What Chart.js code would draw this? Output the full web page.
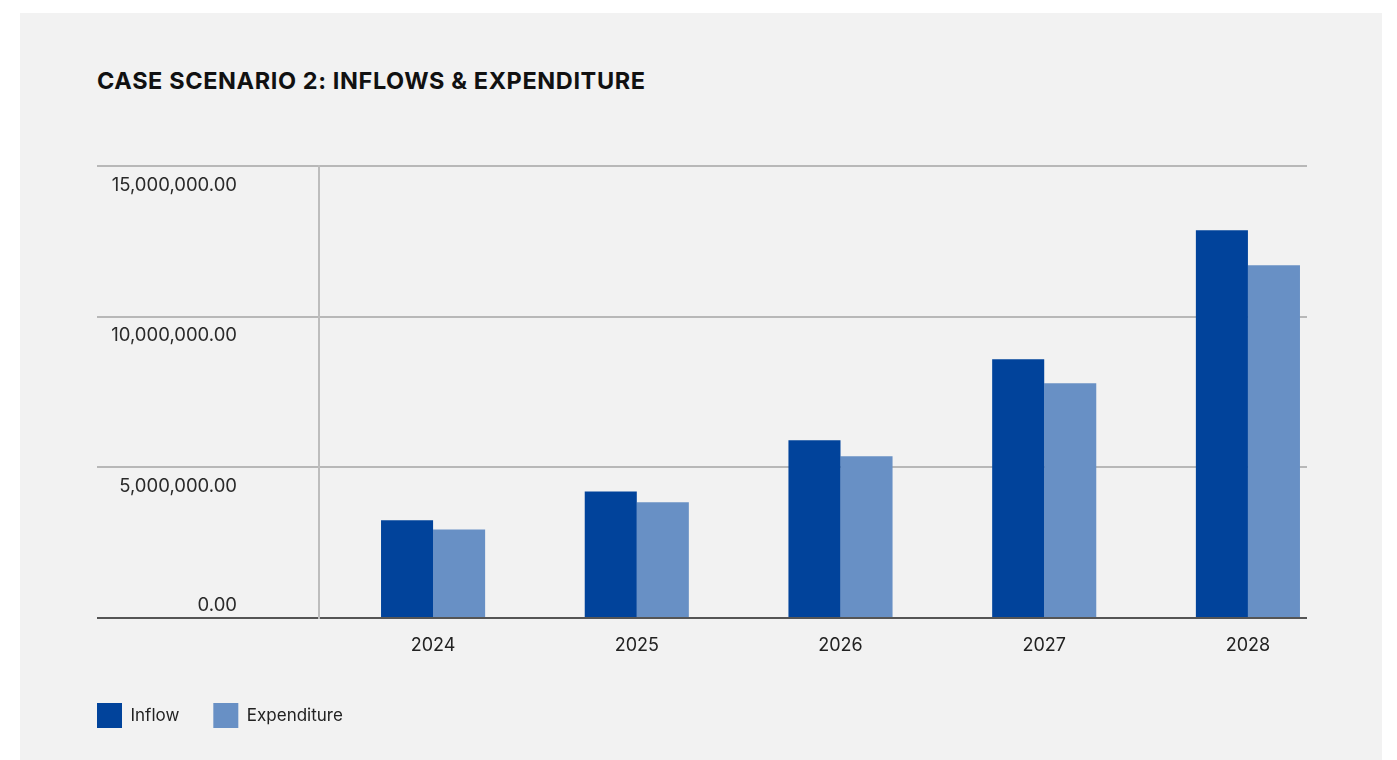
<!DOCTYPE html>
<html>
<head>
<meta charset="utf-8">
<title>Case Scenario 2: Inflows &amp; Expenditure</title>
<script src="https://cdn.jsdelivr.net/npm/chart.js@4.4.1/dist/chart.umd.min.js"></script>
<style>
  body { margin: 0; background: #fff; }
  #panel { position: absolute; left: 20px; top: 13px; width: 1362px; height: 747px; background: #f2f2f2; }
  #title { position: absolute; left: 97px; top: 66px; margin: 0; font: 700 23.5px Inter, sans-serif; color: #111; letter-spacing: 0.6px; }
  #chartBox { position: absolute; left: 0; top: 0; width: 1397px; height: 760px; }
</style>
</head>
<body>
<div id="panel"></div>
<h1 id="title">CASE SCENARIO 2: INFLOWS &amp; EXPENDITURE</h1>
<div id="chartBox"><canvas id="chart"></canvas></div>
<script>
const years = ['2024', '2025', '2026', '2027', '2028'];
const inflow = [3240000, 4200000, 5900000, 8590000, 12870000];
const expenditure = [2940000, 3840000, 5370000, 7790000, 11710000];
const yTicks = [0, 5000000, 10000000, 15000000];

Chart.defaults.font.family = 'Inter, sans-serif';
Chart.defaults.color = '#222';

function toPoints(values) {
  return values.map((v, i) => ({ x: i, y: v }));
}

function fmt(v) {
  return v.toLocaleString('en-US', { minimumFractionDigits: 2, maximumFractionDigits: 2 });
}

// y labels sit right-aligned, just under their gridline (0.00 sits above it)
const yLabels = {
  id: 'yLabels',
  afterDraw(chart) {
    const scale = chart.scales.y;
    const ctx = chart.ctx;
    ctx.save();
    ctx.font = '18.5px Inter, sans-serif';
    ctx.fillStyle = '#2a2a2a';
    ctx.textAlign = 'right';
    ctx.textBaseline = 'middle';
    scale.ticks.forEach(t => {
      const y = scale.getPixelForValue(t.value);
      ctx.fillText(fmt(t.value), scale.right - 82, t.value === 0 ? y - 13 : y + 19);
    });
    ctx.restore();
  }
};

new Chart(document.getElementById('chart'), {
  type: 'bar',
  data: {
    datasets: [
      { label: 'Inflow', data: toPoints(inflow), backgroundColor: '#01439b' },
      { label: 'Expenditure', data: toPoints(expenditure), backgroundColor: '#6890c5' }
    ]
  },
  options: {
    responsive: true,
    maintainAspectRatio: false,
    animation: false,
    categoryPercentage: 0.511,
    barPercentage: 1,
    layout: { padding: { left: 63, right: 90, top: 166, bottom: 22 } },
    plugins: {
      title: { display: false },
      tooltip: { enabled: false },
      legend: {
        position: 'bottom',
        align: 'start',
        labels: { boxWidth: 25, boxHeight: 25, padding: 34, font: { size: 17 }, color: '#222' }
      }
    },
    scales: {
      x: {
        type: 'linear',
        offset: false,
        min: -0.56,
        max: 4.29,
        afterBuildTicks: scale => { scale.ticks = years.map((y, i) => ({ value: i })); },
        afterFit: scale => { scale.height = 51; },
        grid: { display: false, drawTicks: false, offset: false },
        border: { display: false },
        ticks: {
          padding: 17,
          font: { size: 18 },
          color: '#222',
          callback: v => years[v] ?? ''
        }
      },
      y: {
        min: 0,
        max: 15000000,
        afterBuildTicks: scale => { scale.ticks = yTicks.map(v => ({ value: v })); },
        afterFit: scale => { scale.width = 256; },
        grid: {
          color: ctx => ctx.tick && ctx.tick.value === 0 ? '#555' : '#b8b8b8',
          tickColor: ctx => ctx.tick && ctx.tick.value === 0 ? '#555' : '#b8b8b8',
          lineWidth: 2,
          drawTicks: true,
          tickLength: 222
        },
        border: { display: true, color: '#bdbdbd', width: 2 },
        ticks: { display: false }
      }
    }
  },
  plugins: [yLabels]
});
</script>
</body>
</html>
